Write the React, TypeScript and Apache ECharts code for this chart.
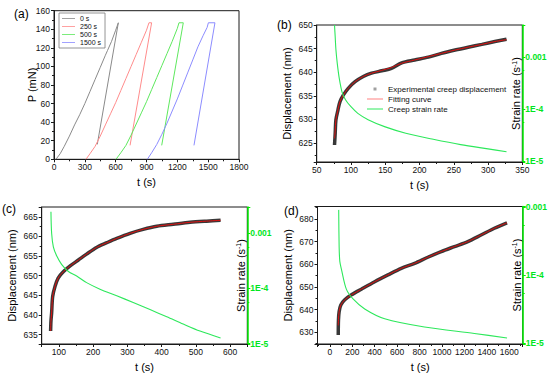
import React, { useEffect, useRef } from 'react';
import * as echarts from 'echarts';

const FONT = '"Liberation Sans", Arial, Helvetica, sans-serif';

// ---------- Panel (a): P vs t loading curves ----------
const a0T = [19, 60, 100, 150, 200, 250, 300, 350, 400, 450, 500, 520, 560, 600, 626, 421];
const a0P = [0, 6, 14, 25, 37, 48, 60, 73, 86, 99, 112, 117, 127, 139, 147, 16];
const a250T = [311, 350, 400, 450, 500, 550, 600, 650, 700, 750, 800, 850, 900, 924, 950, 740];
const a250P = [0, 6, 14, 25, 37, 49, 61, 74, 87, 100, 113, 126, 139, 147, 147, 15];
const a500T = [603, 650, 700, 750, 800, 850, 900, 950, 1000, 1050, 1100, 1150, 1200, 1216, 1258, 1048];
const a500P = [0, 7, 15, 26, 38, 50, 62, 75, 88, 101, 114, 127, 141, 147, 147, 15];
const a1500T = [908, 950, 1000, 1050, 1100, 1150, 1200, 1250, 1300, 1350, 1400, 1450, 1490, 1502, 1566, 1362];
const a1500P = [0, 7, 16, 27, 39, 52, 65, 79, 93, 107, 121, 133, 142, 147, 147, 15];

// ---------- Panel (b) ----------
const bT = [76, 77, 78, 81, 84, 89, 96, 106, 118, 130, 145, 159, 174, 193, 213, 232, 252, 271, 291, 310, 327];
const bExp = [624.6, 627.1, 629.9, 632.0, 633.8, 635.2, 636.6, 638.0, 639.1, 639.8, 640.3, 640.8, 642.0, 642.6, 643.2, 644.0, 644.7, 645.3, 645.9, 646.5, 647.0];
const bFit = [626.0, 627.6, 629.9, 632.0, 633.8, 635.2, 636.6, 638.0, 639.1, 639.8, 640.4, 641.0, 641.9, 642.6, 643.3, 644.0, 644.7, 645.3, 645.9, 646.5, 646.9];
const bRateT = [76, 77, 78, 80, 83, 87, 92, 100, 110, 125, 150, 180, 220, 260, 300, 327];
const bRate = [4.1e-3, 2.4e-3, 1.4e-3, 7.5e-4, 3.8e-4, 2.1e-4, 1.5e-4, 1.1e-4, 8.2e-5, 6.2e-5, 4.5e-5, 3.4e-5, 2.6e-5, 2.05e-5, 1.7e-5, 1.5e-5];

// ---------- Panel (c) ----------
const cT = [76, 77, 79, 82, 89, 98, 113, 133, 157, 181, 210, 240, 269, 308, 346, 386, 434, 483, 531, 572];
const cExp = [635.9, 638.4, 640.5, 644.7, 647.3, 649.4, 651.0, 652.5, 654.0, 655.5, 657.2, 658.4, 659.5, 660.8, 661.8, 662.6, 663.1, 663.6, 663.9, 664.1];
const cRateT = [77, 79, 84, 94, 108, 128, 152, 181, 220, 269, 317, 366, 415, 463, 512, 572];
const cRate = [2.4e-3, 9.8e-4, 5.6e-4, 3.8e-4, 2.7e-4, 2.0e-4, 1.66e-4, 1.26e-4, 9.6e-5, 7.3e-5, 5.5e-5, 4.1e-5, 3.05e-5, 2.25e-5, 1.68e-5, 1.26e-5];

// ---------- Panel (d) ----------
const dT = [75, 77, 83, 98, 133, 193, 281, 400, 518, 637, 756, 874, 993, 1111, 1230, 1348, 1467, 1580];
const dExp = [628.8, 635.4, 639.1, 642.0, 644.3, 646.5, 649.0, 652.3, 655.3, 658.2, 660.4, 663.1, 665.6, 667.8, 670.0, 672.9, 675.9, 678.3];
const dFit = [633.0, 635.6, 639.1, 642.0, 644.3, 646.5, 649.0, 652.3, 655.3, 658.2, 660.4, 663.1, 665.6, 667.8, 670.0, 672.9, 675.9, 678.3];
const dRateT = [79, 83, 89, 104, 148, 207, 311, 489, 844, 1289, 1580];
const dRate = [9.1e-4, 2.6e-4, 1.6e-4, 1.21e-4, 6.2e-5, 4.5e-5, 3.2e-5, 2.3e-5, 1.74e-5, 1.4e-5, 1.2e-5];

const zip = (xs: number[], ys: number[]) => xs.map((x, i) => [x, ys[i]]);

const AX = '#1a1a1a';
const GREEN = '#00e61e';
const RATE = '#2ee85c';
const LINE_ICON = 'path://M0,0M16,8M0,3.5h16v1h-16z';

const plain = (v: number) => String(Math.round(v * 1000) / 1000);

function xAxis(gridIndex: number, min: number, max: number, extra: any = {}, lab: any = {}) {
  return {
    type: 'value', gridIndex, min, max,
    name: 't (s)', nameLocation: 'middle', nameGap: 17,
    nameTextStyle: { fontFamily: FONT, fontSize: 11, color: '#000' },
    axisLine: { show: true, onZero: false, lineStyle: { color: AX, width: 1 } },
    axisTick: { show: true, length: 3, lineStyle: { color: AX } },
    minorTick: { show: true, splitNumber: 2, length: 2, lineStyle: { color: AX } },
    splitLine: { show: false },
    axisLabel: { fontFamily: FONT, fontSize: 8.5, color: '#111', margin: 3, formatter: plain, hideOverlap: false, ...lab },
    ...extra,
  };
}

function yLeft(gridIndex: number, min: number, max: number, name: string, nameGap: number, extra: any = {}, lab: any = {}) {
  return {
    type: 'value', gridIndex, min, max, position: 'left',
    name, nameLocation: 'middle', nameGap, nameRotate: 90,
    nameTextStyle: { fontFamily: FONT, fontSize: 11, color: '#000' },
    axisLine: { show: true, onZero: false, lineStyle: { color: AX, width: 1 } },
    axisTick: { show: true, length: 3, lineStyle: { color: AX } },
    minorTick: { show: true, splitNumber: 2, length: 2, lineStyle: { color: AX } },
    splitLine: { show: false },
    axisLabel: { fontFamily: FONT, fontSize: 8.5, color: '#111', margin: 4, formatter: plain, ...lab },
    ...extra,
  };
}

function yRight(gridIndex: number, min: number, max: number, extraLabel: any = {}) {
  return {
    type: 'log', logBase: 10, gridIndex, min, max, position: 'right',
    axisLine: { show: true, onZero: false, lineStyle: { color: '#00ee00', width: 1.5 } },
    axisTick: { show: true, length: 3, lineStyle: { color: '#00ee00' } },
    minorTick: { show: true, splitNumber: 2, length: 2, lineStyle: { color: '#00ee00' } },
    splitLine: { show: false },
    axisLabel: {
      fontFamily: FONT, fontSize: 8.5, color: GREEN, fontWeight: 'bold', margin: 3,
      formatter: (v: number) => {
        const e = Math.round(Math.log10(v));
        return e === -3 ? '0.001' : '1E' + e;
      },
      ...extraLabel,
    },
  };
}

function expSeries(x: number, y: number, data: number[][]) {
  return {
    name: 'Experimental creep displacement', type: 'line', xAxisIndex: x, yAxisIndex: y,
    data, symbol: 'none', smooth: 0.3,
    lineStyle: { color: '#222', width: 3.5, opacity: 0.9 },
    itemStyle: { color: '#9a9a9a' }, z: 2,
  };
}
function fitSeries(x: number, y: number, data: number[][]) {
  return {
    name: 'Fitting curve', type: 'line', xAxisIndex: x, yAxisIndex: y,
    data, symbol: 'none', smooth: 0.3,
    lineStyle: { color: '#e01010', width: 1 }, itemStyle: { color: '#ff8080' }, z: 3,
  };
}
function rateSeries(x: number, y: number, data: number[][]) {
  return {
    name: 'Creep strain rate', type: 'line', xAxisIndex: x, yAxisIndex: y,
    data, symbol: 'none', smooth: 0.3,
    lineStyle: { color: RATE, width: 1.1 }, itemStyle: { color: RATE }, z: 4,
  };
}
function loadSeries(name: string, color: string, data: number[][]) {
  return {
    name, type: 'line', xAxisIndex: 0, yAxisIndex: 0, data, symbol: 'none',
    lineStyle: { color, width: 1 }, itemStyle: { color },
  };
}

function vText(text: string, x: number, y: number) {
  return {
    type: 'text', x, y, rotation: Math.PI / 2, silent: true,
    style: {
      text, fontFamily: FONT, fontSize: 11, fill: '#000', align: 'center', verticalAlign: 'middle',
      rich: { sup: { fontFamily: FONT, fontSize: 7, fill: '#000', verticalAlign: 'top' }, n: { fontFamily: FONT, fontSize: 11, fill: '#000' } },
    },
  };
}

const gridStyle = { show: true, borderColor: AX, borderWidth: 1, backgroundColor: 'transparent', containLabel: false };
const hideEnds = { showMinLabel: false, showMaxLabel: false };

const option: any = {
  animation: false,
  backgroundColor: '#fff',
  textStyle: { fontFamily: FONT },
  grid: [
    { left: 54, top: 10.7, width: 185, height: 148.6, ...gridStyle },
    { left: 316.7, top: 25, width: 205.6, height: 137, ...gridStyle },
    { left: 41.7, top: 207, width: 205.6, height: 137, ...gridStyle },
    { left: 317.5, top: 206.5, width: 206, height: 137.5, ...gridStyle },
  ],
  xAxis: [
    xAxis(0, 0, 1800, { interval: 300 }),
    xAxis(1, 50, 350, { interval: 50 }),
    xAxis(2, 50, 650, { minInterval: 100, maxInterval: 100 }, hideEnds),
    xAxis(3, -110, 1720, { minInterval: 200, maxInterval: 200 }, hideEnds),
  ],
  yAxis: [
    yLeft(0, 0, 160, '', 16, { interval: 20 }),
    yLeft(1, 621, 650, 'Displacement (nm)', 24, { minInterval: 5, maxInterval: 5 }, { showMinLabel: false }),
    yRight(1, 9.5e-6, 4.1e-3, hideEnds),
    yLeft(2, 632.6, 667.5, 'Displacement (nm)', 24, { minInterval: 5, maxInterval: 5 }, hideEnds),
    yRight(2, 9.8e-6, 2.93e-3, hideEnds),
    yLeft(3, 624.8, 685.5, 'Displacement (nm)', 24, { minInterval: 10, maxInterval: 10 }, hideEnds),
    yRight(3, 9.8e-6, 1.02e-3, hideEnds),
  ],
  legend: [
    {
      left: 59, top: 13, orient: 'vertical', padding: [2, 4, 2, 3],
      borderColor: '#7a7a7a', borderWidth: 0.8, itemWidth: 13, itemHeight: 8, itemGap: 1,
      selectedMode: false,
      textStyle: { fontFamily: FONT, fontSize: 7, color: '#111' },
      data: ['0 s', '250 s', '500 s', '1500 s'].map((name) => ({ name, icon: LINE_ICON })),
    },
    {
      left: 367, top: 85, orient: 'vertical', padding: 0,
      itemWidth: 16, itemHeight: 8, itemGap: 2, selectedMode: false,
      textStyle: { fontFamily: FONT, fontSize: 8, color: '#111' },
      data: [
        { name: 'Experimental creep displacement', icon: 'path://M0,0M16,8M6.5,2.5h3v3h-3z', itemStyle: { color: '#a0a0a0' } },
        { name: 'Fitting curve', icon: LINE_ICON },
        { name: 'Creep strain rate', icon: LINE_ICON },
      ],
    },
  ],
  graphic: [
    { type: 'text', left: 14, top: 8, style: { text: '(a)', fontFamily: FONT, fontSize: 12, fill: '#000' } },
    { type: 'text', left: 277, top: 19, style: { text: '(b)', fontFamily: FONT, fontSize: 12, fill: '#000' } },
    { type: 'text', left: 2, top: 203, style: { text: '(c)', fontFamily: FONT, fontSize: 12, fill: '#000' } },
    { type: 'text', left: 284, top: 205, style: { text: '(d)', fontFamily: FONT, fontSize: 12, fill: '#000' } },
    vText('P (mN)', 31.5, 85),
    vText('{n|Strain rate (s}{sup|-1}{n|)}', 516, 93.5),
    vText('{n|Strain rate (s}{sup|-1}{n|)}', 240.5, 275.5),
    vText('{n|Strain rate (s}{sup|-1}{n|)}', 516.5, 275),
  ],
  series: [
    loadSeries('0 s', '#8a8a8a', zip(a0T, a0P)),
    loadSeries('250 s', '#ff8c8c', zip(a250T, a250P)),
    loadSeries('500 s', '#5ee85e', zip(a500T, a500P)),
    loadSeries('1500 s', '#8c8cff', zip(a1500T, a1500P)),

    expSeries(1, 1, zip(bT, bExp)),
    fitSeries(1, 1, zip(bT, bFit)),
    rateSeries(1, 2, zip(bRateT, bRate)),

    expSeries(2, 3, zip(cT, cExp)),
    fitSeries(2, 3, zip(cT, cExp)),
    rateSeries(2, 4, zip(cRateT, cRate)),

    expSeries(3, 5, zip(dT, dExp)),
    fitSeries(3, 5, zip(dT, dFit)),
    rateSeries(3, 6, zip(dRateT, dRate)),
  ],
};

export default function App() {
  const ref = useRef<HTMLDivElement>(null);
  useEffect(() => {
    const chart = echarts.init(ref.current!, null, { renderer: 'svg' });
    chart.setOption(option);
    return () => chart.dispose();
  }, []);
  return (
    <div
      ref={ref}
      style={{ position: 'absolute', left: 0, top: 0, width: 550, height: 374, background: '#fff' }}
    />
  );
}
